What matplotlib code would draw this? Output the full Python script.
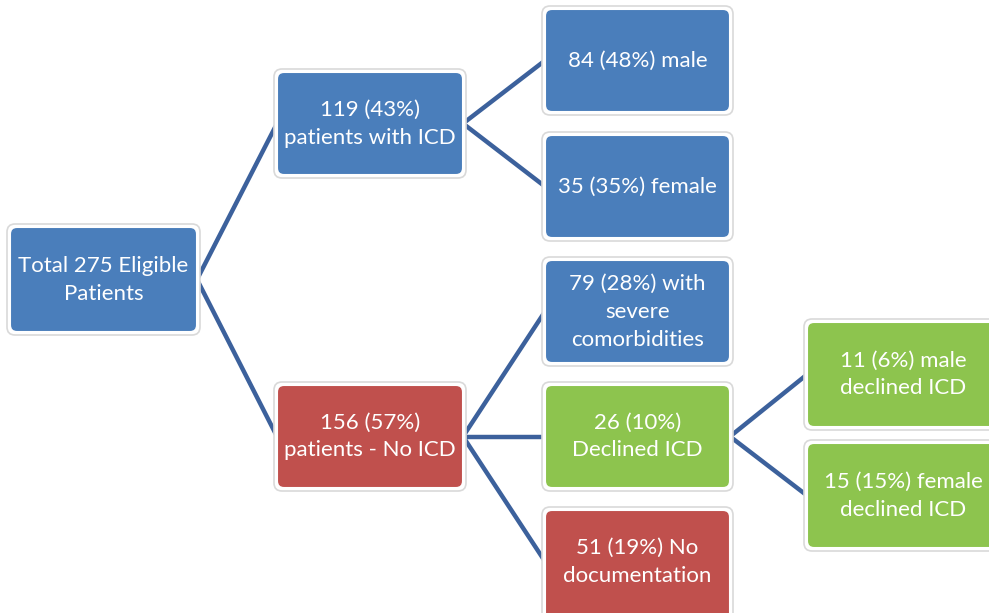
import matplotlib.pyplot as plt
from matplotlib.patches import FancyBboxPatch

# === 節點資料 ===
labels = [
    "Total 275 Eligible\nPatients",
    "119 (43%)\npatients with ICD",
    "156 (57%)\npatients - No ICD",
    "84 (48%) male",
    "35 (35%) female",
    "79 (28%) with\nsevere\ncomorbidities",
    "26 (10%)\nDeclined ICD",
    "51 (19%) No\ndocumentation",
    "11 (6%) male\ndeclined ICD",
    "15 (15%) female\ndeclined ICD",
]
kinds = ["blue", "blue", "red", "blue", "blue", "blue", "green", "red", "green", "green"]
parents = [None, 0, 0, 1, 1, 2, 2, 2, 6, 6]

# 方框位置 (左, 上, 右, 下) 像素
boxes = [
    (10, 227, 197, 332),
    (277, 72, 463, 175),
    (277, 385, 463, 488),
    (545, 9, 730, 112),
    (545, 135, 730, 238),
    (545, 260, 730, 363),
    (545, 385, 730, 488),
    (545, 510, 730, 625),
    (807, 322, 1000, 427),
    (807, 443, 1000, 548),
]
colors = {"blue": "#4A7EBB", "red": "#C0504D", "green": "#8DC44E"}
line_color = "#3C619C"

fig = plt.figure(figsize=(9.89, 6.13), dpi=100)
ax = fig.add_axes([0, 0, 1, 1])
ax.set_xlim(0, 989)
ax.set_ylim(613, 0)
ax.set_axis_off()

# 連接線
for i, p in enumerate(parents):
    if p is None:
        continue
    px = boxes[p][2]
    py = (boxes[p][1] + boxes[p][3]) / 2
    cx = boxes[i][0]
    cy = (boxes[i][1] + min(boxes[i][3], 613)) / 2
    ax.plot([px, cx], [py, cy], color=line_color, lw=3.2, solid_capstyle="round", zorder=1)

# 方框與文字
for (l, t, r, b), lab, k in zip(boxes, labels, kinds):
    # 外框陰影
    ax.add_patch(FancyBboxPatch((l - 3, t - 3), r - l + 6, b - t + 6,
                                boxstyle="round,pad=0,rounding_size=8",
                                fc="#FFFFFF", ec="#D9D9D9", lw=1.2, zorder=2))
    ax.add_patch(FancyBboxPatch((l, t), r - l, b - t,
                                boxstyle="round,pad=0,rounding_size=7",
                                fc=colors[k], ec="white", lw=1.5, zorder=3))
    cy = (t + min(b, 613)) / 2
    ax.text((l + r) / 2, cy, lab, ha="center", va="center", color="white",
            fontsize=16, family="Lato", linespacing=1.5, zorder=4)

plt.savefig("out.png", dpi=100)
